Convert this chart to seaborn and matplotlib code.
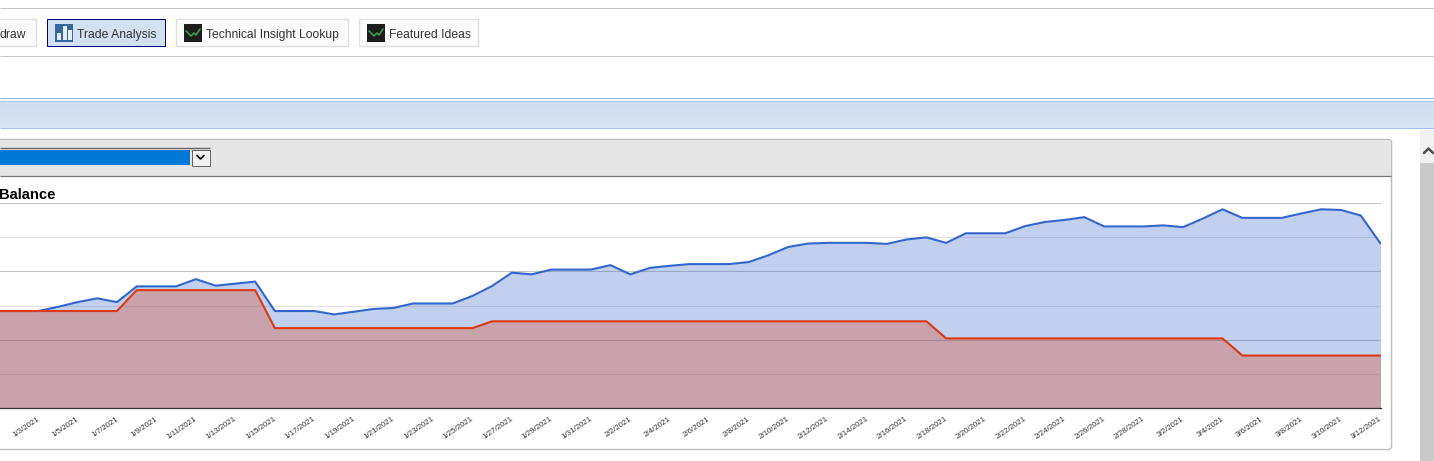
import numpy as np
import pandas as pd
import matplotlib.pyplot as plt
import matplotlib.dates as mdates
from matplotlib.patches import Rectangle, FancyBboxPatch
from matplotlib.transforms import ScaledTranslation
import seaborn as sns

# first and last day of the daily series
start_day = '2021-01-01'
end_day = '2021-03-12'

# the y axis labels are cut off in the picture, so the scale is only relative
equity = [28.4, 28.4, 28.4, 29.6, 31.0, 32.1, 31.0, 35.6, 35.6, 35.6, 37.7, 35.8, 36.4, 37.0,
          28.4, 28.4, 28.4, 27.4, 28.2, 29.0, 29.3, 30.6, 30.6, 30.6, 32.8, 35.7, 39.6, 39.1,
          40.5, 40.5, 40.5, 41.8, 39.1, 41.0, 41.6, 42.1, 42.1, 42.1, 42.7, 44.7, 47.1, 48.1,
          48.3, 48.3, 48.3, 48.0, 49.3, 49.9, 48.3, 51.1, 51.1, 51.1, 53.2, 54.4, 55.0, 55.8,
          53.1, 53.1, 53.1, 53.4, 52.9, 55.4, 58.1, 55.6, 55.6, 55.6, 56.9, 58.1, 57.9, 56.3, 48.1]
balance = [28.4] * 7 + [34.5] * 7 + [23.4] * 11 + [25.4] * 23 + [20.4] * 15 + [15.4] * 8
y_ticks = [0, 10, 20, 30, 40, 50, 60]
tick_days = ['2021-01-03', '2021-01-05', '2021-01-07', '2021-01-09', '2021-01-11', '2021-01-13', '2021-01-15',
             '2021-01-17', '2021-01-19', '2021-01-21', '2021-01-23', '2021-01-25', '2021-01-27', '2021-01-29',
             '2021-01-31', '2021-02-02', '2021-02-04', '2021-02-06', '2021-02-08', '2021-02-10', '2021-02-12',
             '2021-02-14', '2021-02-16', '2021-02-18', '2021-02-20', '2021-02-22', '2021-02-24', '2021-02-26',
             '2021-02-28', '2021-03-02', '2021-03-04', '2021-03-06', '2021-03-08', '2021-03-10', '2021-03-12']
tick_labels = ['1/3/2021', '1/5/2021', '1/7/2021', '1/9/2021', '1/11/2021', '1/13/2021', '1/15/2021',
               '1/17/2021', '1/19/2021', '1/21/2021', '1/23/2021', '1/25/2021', '1/27/2021', '1/29/2021',
               '1/31/2021', '2/2/2021', '2/4/2021', '2/6/2021', '2/8/2021', '2/10/2021', '2/12/2021',
               '2/14/2021', '2/16/2021', '2/18/2021', '2/20/2021', '2/22/2021', '2/24/2021', '2/26/2021',
               '2/28/2021', '3/2/2021', '3/4/2021', '3/6/2021', '3/8/2021', '3/10/2021', '3/12/2021']

sns.set_style('white')
plt.rcParams['font.family'] = ['Liberation Sans', 'DejaVu Sans']

W, H = 1434, 461
fig = plt.figure(figsize=(W / 100, H / 100), dpi=100)

# page around the chart, in pixels of the screenshot
page = fig.add_axes([0, 0, 1, 1])
page.set_xlim(0, W)
page.set_ylim(H, 0)
page.axis('off')


def box(x0, y0, x1, y1, fc='none', ec='none', lw=0.72, z=1):
    page.add_patch(Rectangle((x0, y0), x1 - x0, y1 - y0, fc=fc, ec=ec, lw=lw, zorder=z))


def hline(y, x0, x1, color, lw=0.72):
    page.plot([x0, x1], [y, y], color=color, lw=lw, solid_capstyle='butt', zorder=3)


def dark_icon(x):
    box(x, 24, x + 18, 42, fc='#1d1d1d', z=4)
    page.plot([x + 2, x + 7, x + 10, x + 12, x + 16], [31, 36, 33, 35, 29], color='#3f9a4e', lw=1.2, zorder=5)


hline(8.5, 0, W, '#c4c4c4')
hline(56.5, 0, W, '#c8c8c8')

# toolbar buttons
box(-5, 19.5, 35.5, 46.5, fc='#fbfbfb', ec='#e0e0e0', lw=1.0)
page.text(0, 35, 'draw', fontsize=8.75, color='#333333', va='center', zorder=5)
box(46.5, 19.5, 164.5, 46.5, fc='#d3e0f2', ec='#000080')
box(55, 24, 73, 42, fc='#33689f', z=4)
box(57, 33, 61, 40, fc='#e8eef6', z=5)
box(62.5, 26, 66.5, 40, fc='#e8eef6', z=5)
box(68, 30, 71.5, 40, fc='#e8eef6', z=5)
page.text(77, 35, 'Trade Analysis', fontsize=8.75, color='#333333', va='center', zorder=5)
box(175.5, 19.5, 347.5, 46.5, fc='#fbfbfb', ec='#e0e0e0', lw=1.0)
dark_icon(184)
page.text(206, 35, 'Technical Insight Lookup', fontsize=8.75, color='#333333', va='center', zorder=5)
box(358.5, 19.5, 477.5, 46.5, fc='#fbfbfb', ec='#e0e0e0', lw=1.0)
dark_icon(367)
page.text(389, 35, 'Featured Ideas', fontsize=8.75, color='#333333', va='center', zorder=5)

# blue band
band = np.linspace(0, 1, 28).reshape(-1, 1)
page.imshow(band, extent=(0, W, 128, 101), cmap=sns.blend_palette(['#cfdcef', '#dbe6f4'], as_cmap=True),
            aspect='auto', zorder=1)
page.set_xlim(0, W)
page.set_ylim(H, 0)
hline(98.5, 0, W, '#8fb4e6')
hline(101.5, 0, W, '#a9c6ea')
hline(128.5, 0, W, '#9fc0ee')

# panel holding the chart
page.add_patch(FancyBboxPatch((-10, 139.5), 1401.5, 310, boxstyle='round,pad=0,rounding_size=3',
                              fc='white', ec='#bcbcbc', lw=1.0, zorder=1))
page.add_patch(FancyBboxPatch((-10, 140), 1401, 36, boxstyle='round,pad=0,rounding_size=3',
                              fc='#e6e6e6', ec='none', zorder=1))
box(-10, 160, 1391, 175.5, fc='#e6e6e6', z=1)
hline(175.7, 0, 1391, '#777777', 0.9)
hline(460.5, 0, 1392, '#c8c8c8')

# dropdown
box(0, 149.5, 190, 165, fc='#0078d7', z=3)
hline(147.6, 0, 210, '#666666', 1.0)
box(191.5, 149.5, 209.5, 165.5, fc='#f0f0f0', ec='#666666', z=3)
page.plot([197, 200.5, 204], [155.5, 159, 155.5], color='black', lw=1.2, zorder=5)
page.text(-1, 194.5, 'Balance', fontsize=10.6, fontweight='bold', color='black', va='center', zorder=5)

# scrollbar
box(1420, 130, W, 163, fc='#f1f1f1', z=1)
box(1420, 163, W, H, fc='#c9c9c9', z=1)
page.plot([1424, 1428.5, 1433], [153, 148.5, 153], color='#505050', lw=1.8, zorder=5)

# the chart itself
days = pd.date_range(start_day, end_day, freq='D')
df = pd.DataFrame({'date': days, 'equity': equity, 'balance': balance})

ax = fig.add_axes([0, (H - 408.3) / H, 1380.5 / W, 205.5 / H], facecolor='none')
ax.set_zorder(2)
ax.fill_between(df['date'], df['equity'], color='#3366cc', alpha=0.3, lw=0)
ax.fill_between(df['date'], df['balance'], color='#dc3912', alpha=0.3, lw=0)
sns.lineplot(x='date', y='equity', data=df, ax=ax, color='#3366cc', lw=1.5)
sns.lineplot(x='date', y='balance', data=df, ax=ax, color='#dc3912', lw=1.5)

day0 = mdates.date2num(pd.Timestamp('2021-01-03'))
ax.set_xlim(day0 - 38 / 19.74, mdates.date2num(pd.Timestamp(end_day)))
ax.set_ylim(0, 60)
ax.set_yticks(y_ticks)
ax.set_yticklabels([])
ax.set_xticks(pd.to_datetime(tick_days))
ax.set_xticklabels(tick_labels, rotation=34, ha='right', rotation_mode='anchor', fontsize=5.7, color='#333333')
ax.tick_params(axis='x', length=0, pad=5)
ax.tick_params(axis='y', length=0)
# rotated labels sit a little left of the tick in the original
shift = ScaledTranslation(-1.5 / 100, 0, fig.dpi_scale_trans)
for lab in ax.get_xticklabels():
    lab.set_transform(lab.get_transform() + shift)
ax.set_xlabel('')
ax.set_ylabel('')
ax.grid(True, axis='y', lw=0.8)
ax.grid(False, axis='x')
for i, line in enumerate(ax.get_ygridlines()):
    line.set_color('#c4c4c4' if i % 2 == 0 else '#e2e2e2')
ax.set_axisbelow(True)
sns.despine(ax=ax, left=True, top=True, right=True)
ax.spines['bottom'].set_color('#333333')
ax.spines['bottom'].set_linewidth(0.9)

fig.savefig('out.png', dpi=100)
